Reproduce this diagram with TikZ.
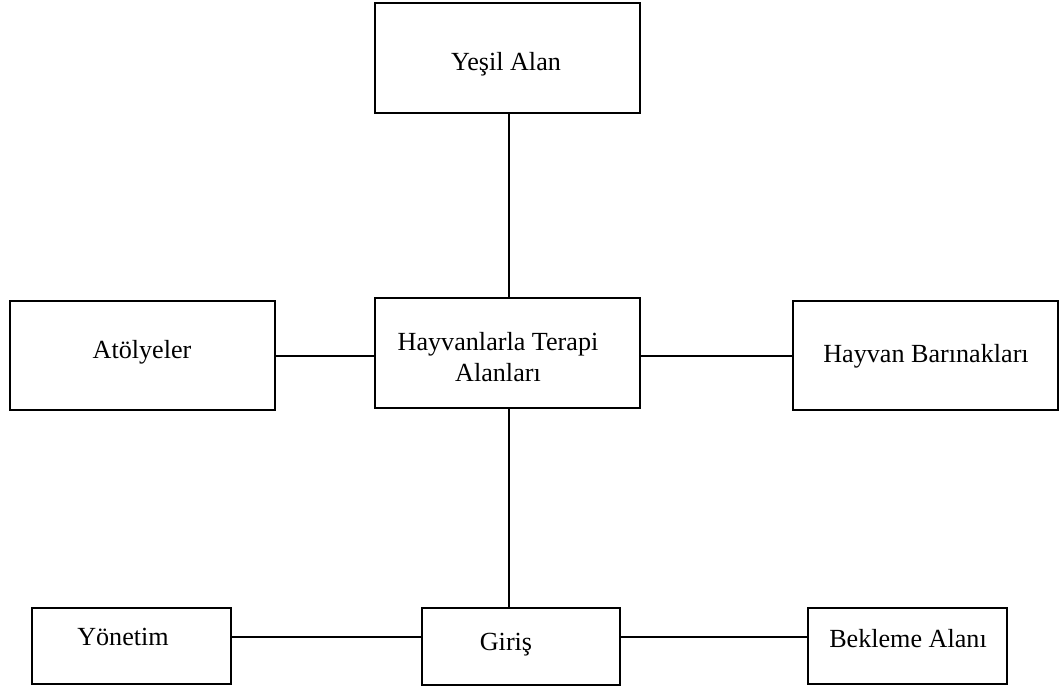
\documentclass[tikz,border=0pt]{standalone}
\usepackage{fontspec}
\setmainfont{Liberation Serif}
\begin{document}
\begin{tikzpicture}[x=0.75pt,y=-0.75pt,
  box/.style={draw=black,line width=1.3pt,inner sep=0pt,outer sep=0pt,fill=white},
  lbl/.style={font=\fontsize{19.6}{23.25}\selectfont,inner sep=0pt,align=center},
  link/.style={line width=1.3pt}]
\useasboundingbox[fill=white] (0,0) rectangle (1062,691);
% boxes
\node[box,minimum width=265*0.75pt,minimum height=110*0.75pt] (yesil) at (507.5,58) {};
\node[box,minimum width=265*0.75pt,minimum height=109*0.75pt] (atol) at (142.5,355.5) {};
\node[box,minimum width=265*0.75pt,minimum height=110*0.75pt] (hay) at (507.5,353) {};
\node[box,minimum width=265*0.75pt,minimum height=109*0.75pt] (barin) at (925.5,355.5) {};
\node[box,minimum width=199*0.75pt,minimum height=76*0.75pt] (yon) at (131.5,646) {};
\node[box,minimum width=198*0.75pt,minimum height=77*0.75pt] (giris) at (521,646.5) {};
\node[box,minimum width=199*0.75pt,minimum height=76*0.75pt] (bek) at (907.5,646) {};
% texts
\node[lbl,anchor=base] (tyesil) at (506,71) {Yeşil Alan};
\node[lbl,anchor=base] (tatol) at (142,358) {Atölyeler};
\node[lbl,anchor=center] (thay) at (498,357.5) {Hayvanlarla Terapi\\Alanları};
\node[lbl,anchor=base] (tbarin) at (926,362) {Hayvan Barınakları};
\node[lbl,anchor=base] (tyon) at (123,645) {Yönetim};
\node[lbl,anchor=base] (tgiris) at (506,650) {Giriş};
\node[lbl,anchor=base] (tbek) at (908,647) {Bekleme Alanı};
% connectors
\coordinate (vx) at (509,0);
\draw[link] (yesil.south -| vx) -- (hay.north -| vx);
\draw[link] (hay.south -| vx) -- (giris.north -| vx);
\draw[link] (atol.east |- 0,356) -- (hay.west |- 0,356);
\draw[link] (hay.east |- 0,356) -- (barin.west |- 0,356);
\draw[link] (yon.east |- 0,637) -- (giris.west |- 0,637);
\draw[link] (giris.east |- 0,637) -- (bek.west |- 0,637);
\end{tikzpicture}
\end{document}
